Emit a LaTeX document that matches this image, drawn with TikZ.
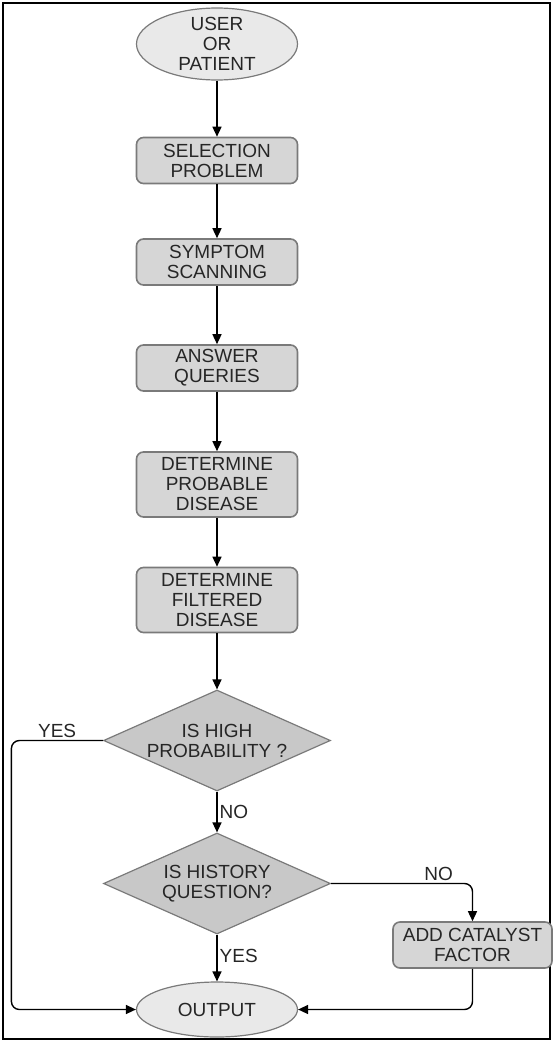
\documentclass[tikz,border=0pt]{standalone}
\usepackage{fontspec}
\setmainfont{Liberation Sans}
\usepackage{xcolor}
\usepackage{tikz}
\usetikzlibrary{shapes.geometric,arrows.meta,positioning}

\definecolor{edgegray}{HTML}{7A7A7A}
\definecolor{boxfill}{HTML}{D6D6D6}
\definecolor{ovalfill}{HTML}{E9E9E9}
\definecolor{decfill}{HTML}{C8C8C8}

\begin{document}
\begin{tikzpicture}[x=1pt, y=1pt,
  txt/.style={font=\fontsize{19}{20}\selectfont, text=black!85, align=center},
  proc/.style={txt, draw=edgegray, line width=1.6pt, fill=boxfill, rounded corners=7pt, minimum width=161pt, minimum height=46pt, inner sep=2pt},
  oval/.style={txt, ellipse, draw=edgegray, line width=1.2pt, fill=ovalfill, minimum width=161pt, inner xsep=0pt, inner ysep=-2pt},
  dec/.style={txt, diamond, aspect=2.27, draw=edgegray, line width=1.2pt, fill=decfill, minimum width=227pt, minimum height=101pt, inner sep=0pt},
  arr/.style={-{Triangle[length=10pt, width=9pt]}, line width=1.4pt},
  lbl/.style={txt, inner sep=2pt},
  on grid
]
\useasboundingbox (0,0) rectangle (553,-1041);
\draw[line width=2pt] (3,-3) rectangle (550,-1039);

\node[oval, minimum height=72pt] (user) at (217,-44) {USER\\OR\\PATIENT};
\node[proc, below=116.5pt of user] (select) {SELECTION\\PROBLEM};
\node[proc, below=101.5pt of select] (symptom) {SYMPTOM\\SCANNING};
\node[proc, below=106pt of symptom] (answer) {ANSWER\\QUERIES};
\node[proc, below=116.5pt of answer, minimum height=65pt] (probable) {DETERMINE\\PROBABLE\\DISEASE};
\node[proc, below=115.5pt of probable, minimum height=65pt] (filtered) {DETERMINE\\FILTERED\\DISEASE};
\node[dec, below=140.5pt of filtered] (high) {IS HIGH\\PROBABILITY ?};
\node[dec, below=143pt of high] (history) {IS HISTORY\\QUESTION?};
\node[oval, below=126pt of history, minimum height=55pt] (output) {OUTPUT};
\node[proc, below right=61.5pt and 255.5pt of history, minimum width=159pt] (catalyst) {ADD CATALYST\\FACTOR};

\draw[arr] (user) -- (select);
\draw[arr] (select) -- (symptom);
\draw[arr] (symptom) -- (answer);
\draw[arr] (answer) -- (probable);
\draw[arr] (probable) -- (filtered);
\draw[arr] (filtered) -- (high);
\draw[arr] (high) -- node[lbl, right] {NO} (history);
\draw[arr] (history) -- node[lbl, right, pos=0.45] {YES} (output);
\draw[arr, rounded corners=8pt] (high.west) -- ++(-91.5,0) node[lbl, above, midway] {YES} |- (output.west);
\draw[arr, rounded corners=8pt] (history.east) -| node[lbl, above, pos=0.38] {NO} (catalyst.north);
\draw[arr, rounded corners=8pt] (catalyst.south) |- (output.east);

\end{tikzpicture}
\end{document}
